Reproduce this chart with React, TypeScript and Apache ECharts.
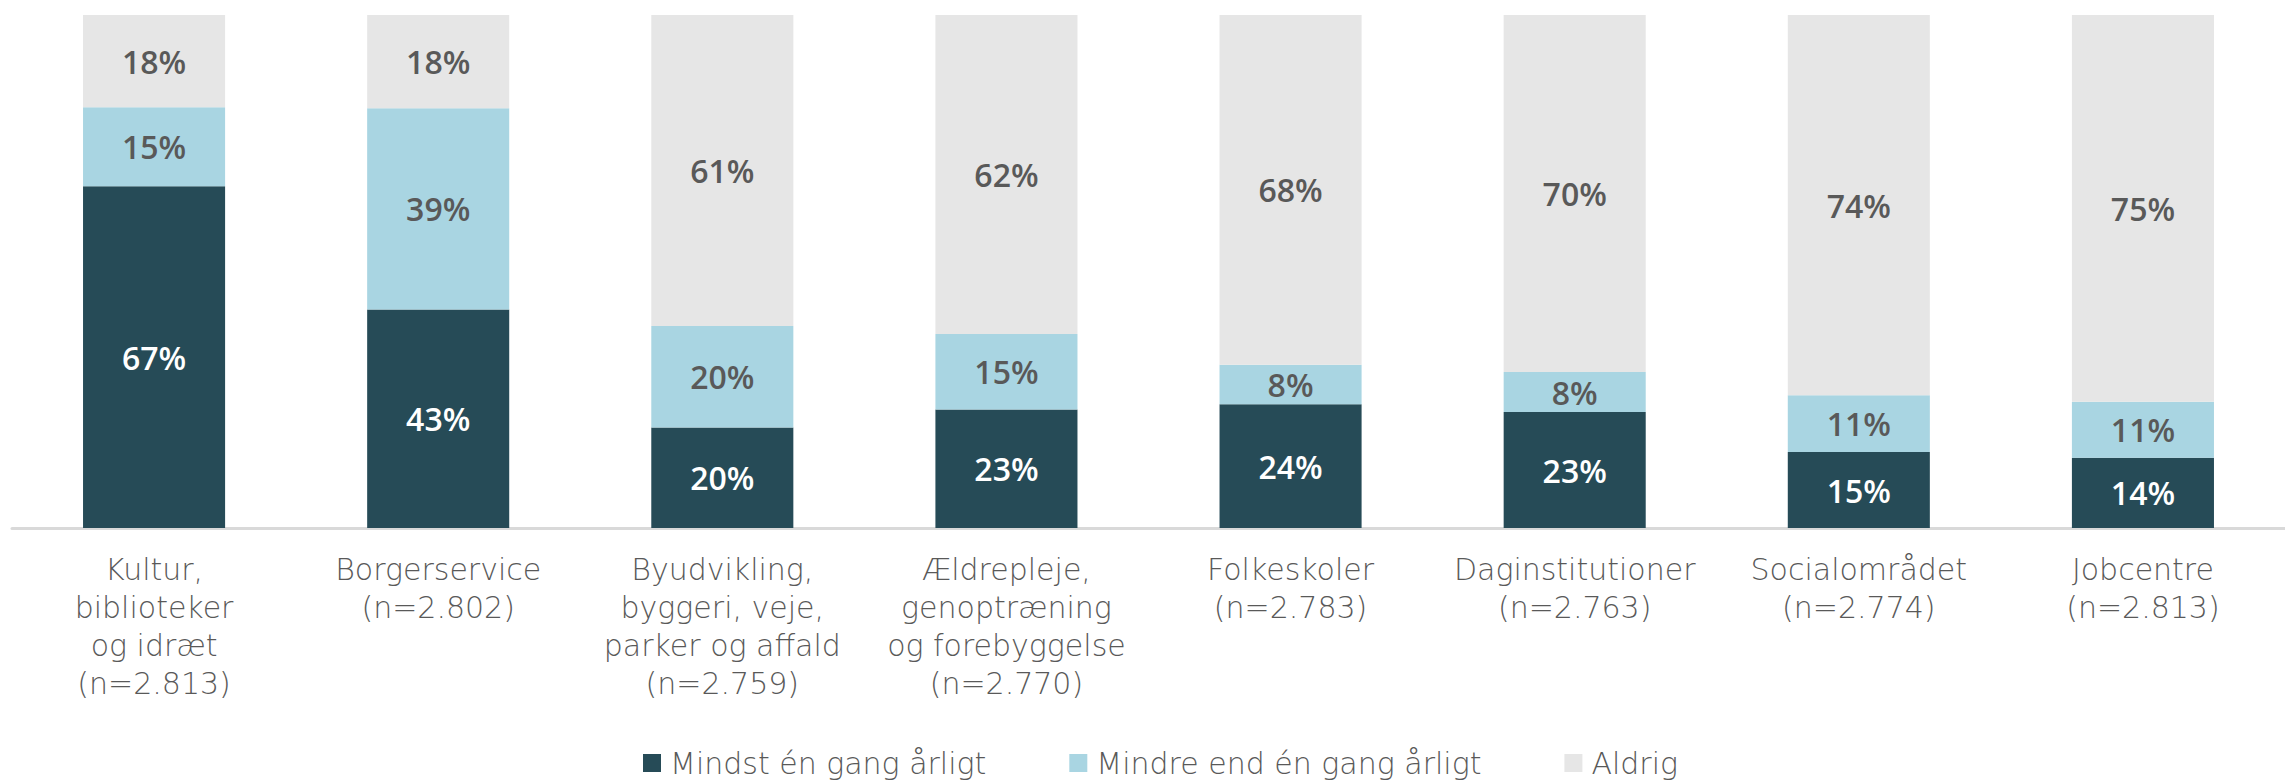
import React, { useEffect, useRef } from "react";
import * as echarts from "echarts";

const categories = [
  "Kultur,\nbiblioteker\nog idræt\n(n=2.813)",
  "Borgerservice\n(n=2.802)",
  "Byudvikling,\nbyggeri, veje,\nparker og affald\n(n=2.759)",
  "Ældrepleje,\ngenoptræning\nog forebyggelse\n(n=2.770)",
  "Folkeskoler\n(n=2.783)",
  "Daginstitutioner\n(n=2.763)",
  "Socialområdet\n(n=2.774)",
  "Jobcentre\n(n=2.813)",
];

const seriesNames = ["Mindst én gang årligt", "Mindre end én gang årligt", "Aldrig"];
const mindst = [66.6, 42.6, 19.6, 23.1, 24.1, 22.6, 14.8, 13.7];
const mindre = [15.4, 39.2, 19.8, 14.7, 7.7, 7.8, 11.1, 10.9];
const aldrig = [18.0, 18.2, 60.6, 62.2, 68.2, 69.6, 74.1, 75.4];

const colors = ["#264B57", "#A9D5E2", "#E6E6E6"];
const labelColors = ["#FFFFFF", "#595959", "#595959"];
const LIGHT_FONT = "'DejaVu Sans', 'Open Sans', sans-serif";
const BOLD_FONT = "'Open Sans', 'Noto Sans', sans-serif";

export default function App() {
  const ref = useRef<HTMLDivElement>(null);
  useEffect(() => {
    if (!ref.current) return;
    const chart = echarts.init(ref.current, null, { renderer: "svg" });
    const data = [mindst, mindre, aldrig];
    chart.setOption({
      animation: false,
      backgroundColor: "#FFFFFF",
      textStyle: { fontFamily: LIGHT_FONT },
      grid: { left: 12, right: -20, top: 15, bottom: 255, containLabel: false },
      legend: {
        left: 643,
        top: 748,
        padding: 0,
        itemWidth: 18,
        itemHeight: 18,
        itemGap: 83,
        icon: "rect",
        textStyle: { fontSize: 30, color: "#595959", fontWeight: 200, fontFamily: LIGHT_FONT, padding: [0, 0, 0, 4] },
        data: seriesNames,
      },
      xAxis: {
        type: "category",
        data: categories,
        axisLine: { show: true, lineStyle: { color: "#D9D9D9", width: 3 } },
        axisTick: { show: false },
        axisLabel: {
          interval: 0,
          fontSize: 30,
          lineHeight: 38,
          color: "#595959",
          fontWeight: 200,
          fontFamily: LIGHT_FONT,
          margin: 22,
          align: "center",
        },
      },
      yAxis: { type: "value", min: 0, max: 100, show: false, splitLine: { show: false } },
      series: data.map((d, i) => ({
        name: seriesNames[i],
        type: "bar",
        stack: "total",
        barWidth: "50%",
        data: d,
        itemStyle: { color: colors[i] },
        label: {
          show: true,
          position: "inside",
          formatter: (p: any) => Math.round(p.value) + "%",
          fontSize: 32,
          fontWeight: 600,
          fontFamily: BOLD_FONT,
          color: labelColors[i],
        },
      })),
    });
    return () => chart.dispose();
  }, []);
  return <div ref={ref} style={{ position: "absolute", left: 0, top: 0, width: 2285, height: 783 }} />;
}
